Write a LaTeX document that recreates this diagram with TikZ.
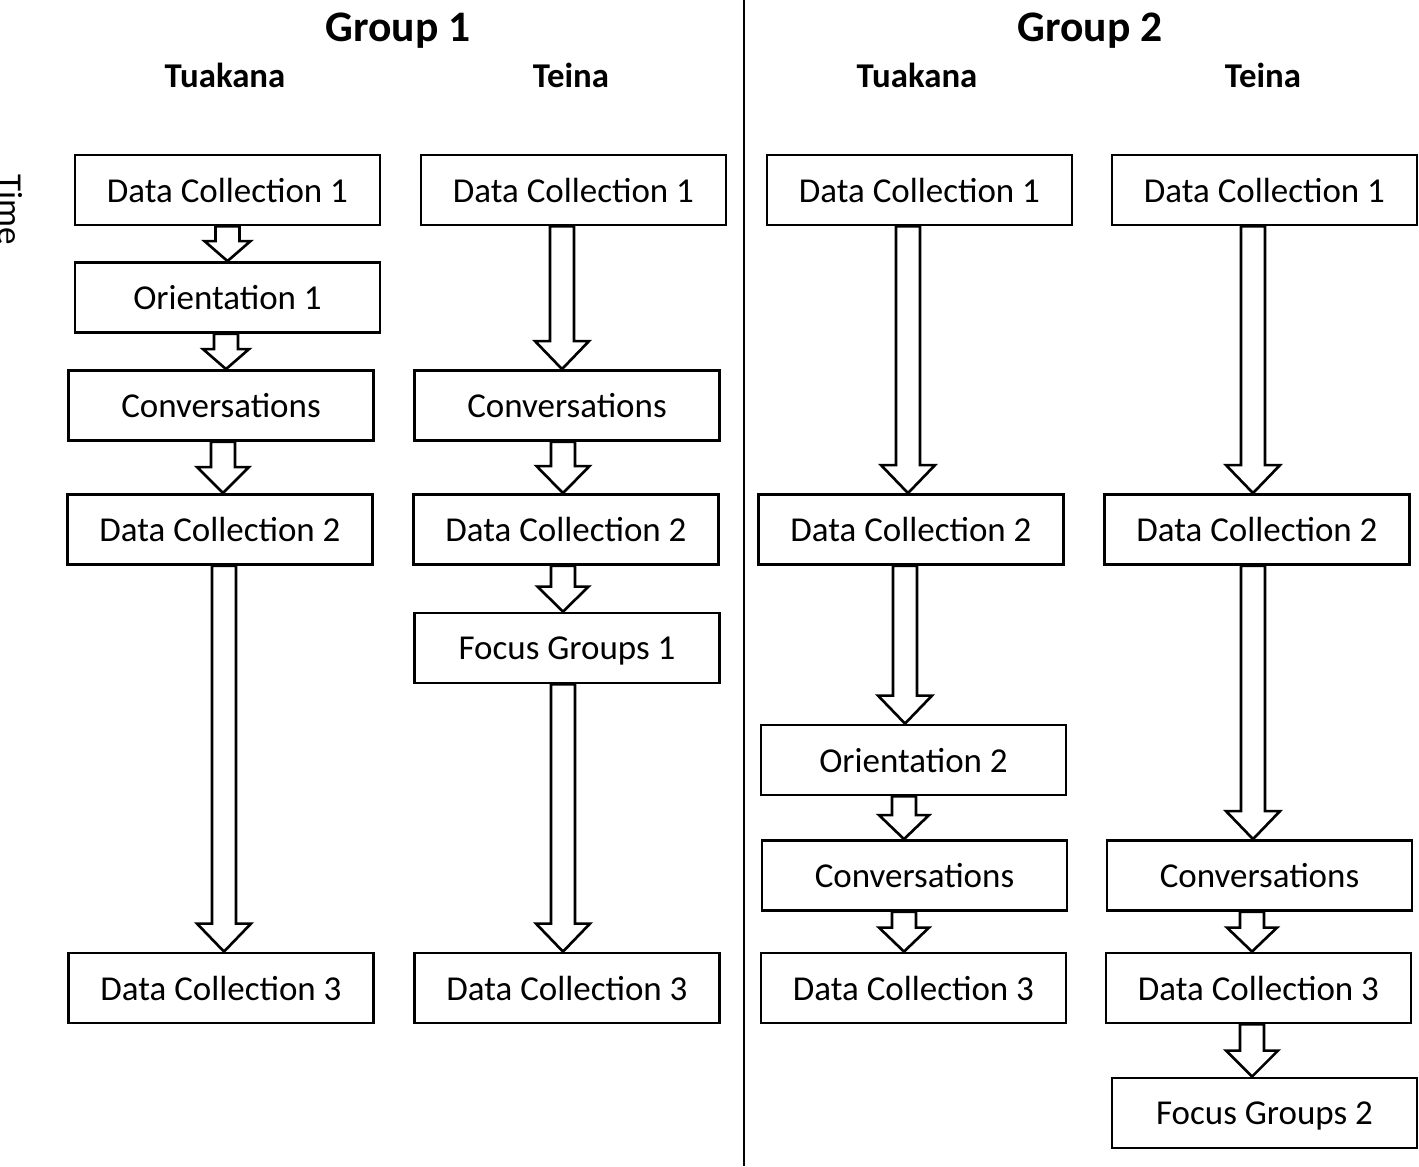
\documentclass[tikz,border=0pt]{standalone}
\usepackage{fontspec}
\setmainfont{Carlito}
\usetikzlibrary{calc}
\tikzset{
  stage/.style={draw, line width=1.6pt, minimum width=6.1cm, minimum height=1.4cm,
    inner sep=0pt, text depth=0pt, font=\fontsize{19.9}{23.5}\selectfont},
  grouphead/.style={anchor=base, font=\bfseries\fontsize{24.8}{29}\selectfont},
  rolehead/.style={anchor=base, font=\bfseries\fontsize{19.8}{23}\selectfont},
  blockarr/.style={draw, fill=white, line width=1.5pt, line join=miter},
}
% from, to, x shift, head length (all in px)
\newcommand{\blockarrow}[4]{
  \draw[blockarr] ($(#1.south)+(#3-12,0)$) -- ($(#1.south |- #2.north)+(#3-12,-#4)$)
    -- ($(#1.south |- #2.north)+(#3-0.5*#4-13,-#4)$) -- ($(#1.south |- #2.north)+(#3,0)$)
    -- ($(#1.south |- #2.north)+(#3+0.5*#4+13,-#4)$) -- ($(#1.south |- #2.north)+(#3+12,-#4)$)
    -- ($(#1.south)+(#3+12,0)$) -- cycle;
}

\begin{document}
\begin{tikzpicture}[x=0.02cm, y=-0.02cm]
  \useasboundingbox (0,0) rectangle (1419,1166);

  \draw [line width=1.1pt] (744,0) -- (744,1166);
  \node [rotate=-90, anchor=north, inner sep=0pt, font=\fontsize{19.9}{23.5}\selectfont] (time) at (23,210) {Time};

  \node [grouphead] (g1) at (398,42) {Group 1};
  \node [grouphead] (g2) at (1090,42) {Group 2};
  \node [rolehead] (g1tu) at (225,88) {Tuakana};
  \node [rolehead] (g1te) at (571,88) {Teina};
  \node [rolehead] (g2tu) at (917,88) {Tuakana};
  \node [rolehead] (g2te) at (1263,88) {Teina};

  % group 1, tuakana
  \node [stage] (a1) at (227.5,190) {Data Collection 1};
  \node [stage] (a2) at (227.5,297.5) {Orientation 1};
  \node [stage] (a3) at (221,405.5) {Conversations};
  \node [stage] (a4) at (220,529.5) {Data Collection 2};
  \node [stage] (a5) at (221,988) {Data Collection 3};
  % group 1, teina
  \node [stage] (b1) at (573.5,190) {Data Collection 1};
  \node [stage] (b2) at (567,405.5) {Conversations};
  \node [stage] (b3) at (566,529.5) {Data Collection 2};
  \node [stage] (b4) at (567,648) {Focus Groups 1};
  \node [stage] (b5) at (567,988) {Data Collection 3};
  % group 2, tuakana
  \node [stage] (c1) at (919.5,190) {Data Collection 1};
  \node [stage] (c2) at (911,529.5) {Data Collection 2};
  \node [stage] (c3) at (913.5,760) {Orientation 2};
  \node [stage] (c4) at (914.5,875.5) {Conversations};
  \node [stage] (c5) at (913.5,988) {Data Collection 3};
  % group 2, teina
  \node [stage] (d1) at (1264.5,190) {Data Collection 1};
  \node [stage] (d2) at (1257,529.5) {Data Collection 2};
  \node [stage] (d3) at (1259.5,875.5) {Conversations};
  \node [stage] (d4) at (1258.5,988) {Data Collection 3};
  \node [stage] (d5) at (1264.5,1113) {Focus Groups 2};

  \foreach \from/\to/\dx/\hl in {a1/a2/0/20, a2/a3/-1.5/20, a3/a4/2/26, a4/a5/4/28,
      b1/b2/-11.5/28, b2/b3/-4/27, b3/b4/-3/25, b4/b5/-4/28,
      c1/c2/-11.5/28, c2/c3/-6/28, c3/c4/-9.5/24, c4/c5/-10.5/24,
      d1/d2/-11.5/28, d2/d3/-4/28, d3/d4/-7.5/24, d4/d5/-6.5/26} {
    \blockarrow{\from}{\to}{\dx}{\hl}
  }
\end{tikzpicture}
\end{document}
